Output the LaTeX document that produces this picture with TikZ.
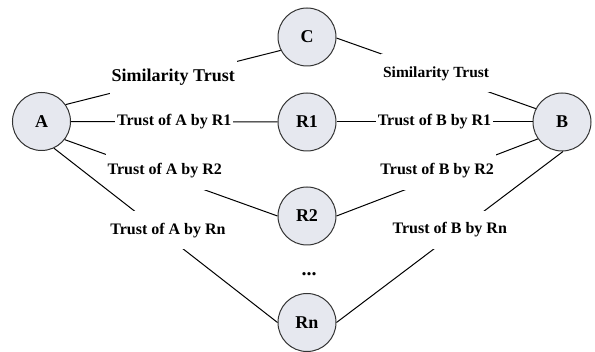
\documentclass[tikz,border=0pt]{standalone}
\usepackage{fontspec}
\setmainfont{Liberation Serif}
\usepackage{tikz}
\definecolor{peerfill}{HTML}{E6E8EF}
\tikzstyle{peer} = [draw=black!80, fill=peerfill, line width=0.5pt, circle,
    minimum size=29pt, inner sep=0pt, font=\fontsize{9}{10}\selectfont\bfseries]
\tikzstyle{trust} = [fill=white, inner xsep=1pt, inner ysep=6pt,
    font=\fontsize{8}{9}\selectfont\bfseries]

\begin{document}
\begin{tikzpicture}[x=0.5pt, y=-0.5pt, line width=0.5pt]
                \useasboundingbox (0,0) rectangle (595,352);
                \node [peer] (A) at (41.5,121.5) {A};
                \node [peer] (C) at (307,37) {C};
                \node [peer] (R1) at (307,122) {R1};
                \node [peer] (R2) at (307,216) {R2};
                \node [peer] (Rn) at (307,322.5) {Rn};
                \node [peer] (B) at (562,122) {B};
                \node [font=\bfseries] (dots) at (309,274) {...};
                \draw (A.35) -- node[trust, font=\fontsize{9}{10}\selectfont\bfseries] {Similarity Trust} (C.207);
                \draw (C.358) -- node[trust, font=\fontsize{7.75}{9}\selectfont\bfseries] {Similarity Trust} (B.153);
                \draw (A) -- node[trust] {Trust of A by R1} (R1);
                \draw (R1) -- node[trust] {Trust of B by R1} (B);
                \draw (A.-38) -- node[trust, pos=0.47, yshift=2.5pt] {Trust of A by R2} (R2.west);
                \draw (B.215) -- node[trust, pos=0.5, yshift=3.5pt] {Trust of B by R2} (R2.east);
                \draw (A.-65) -- node[trust, pos=0.51, yshift=3.5pt] {Trust of A by Rn} (Rn.west);
                \draw (B.-88) -- node[trust, pos=0.5, yshift=3.5pt] {Trust of B by Rn} (Rn.east);
            \end{tikzpicture}
\end{document}
